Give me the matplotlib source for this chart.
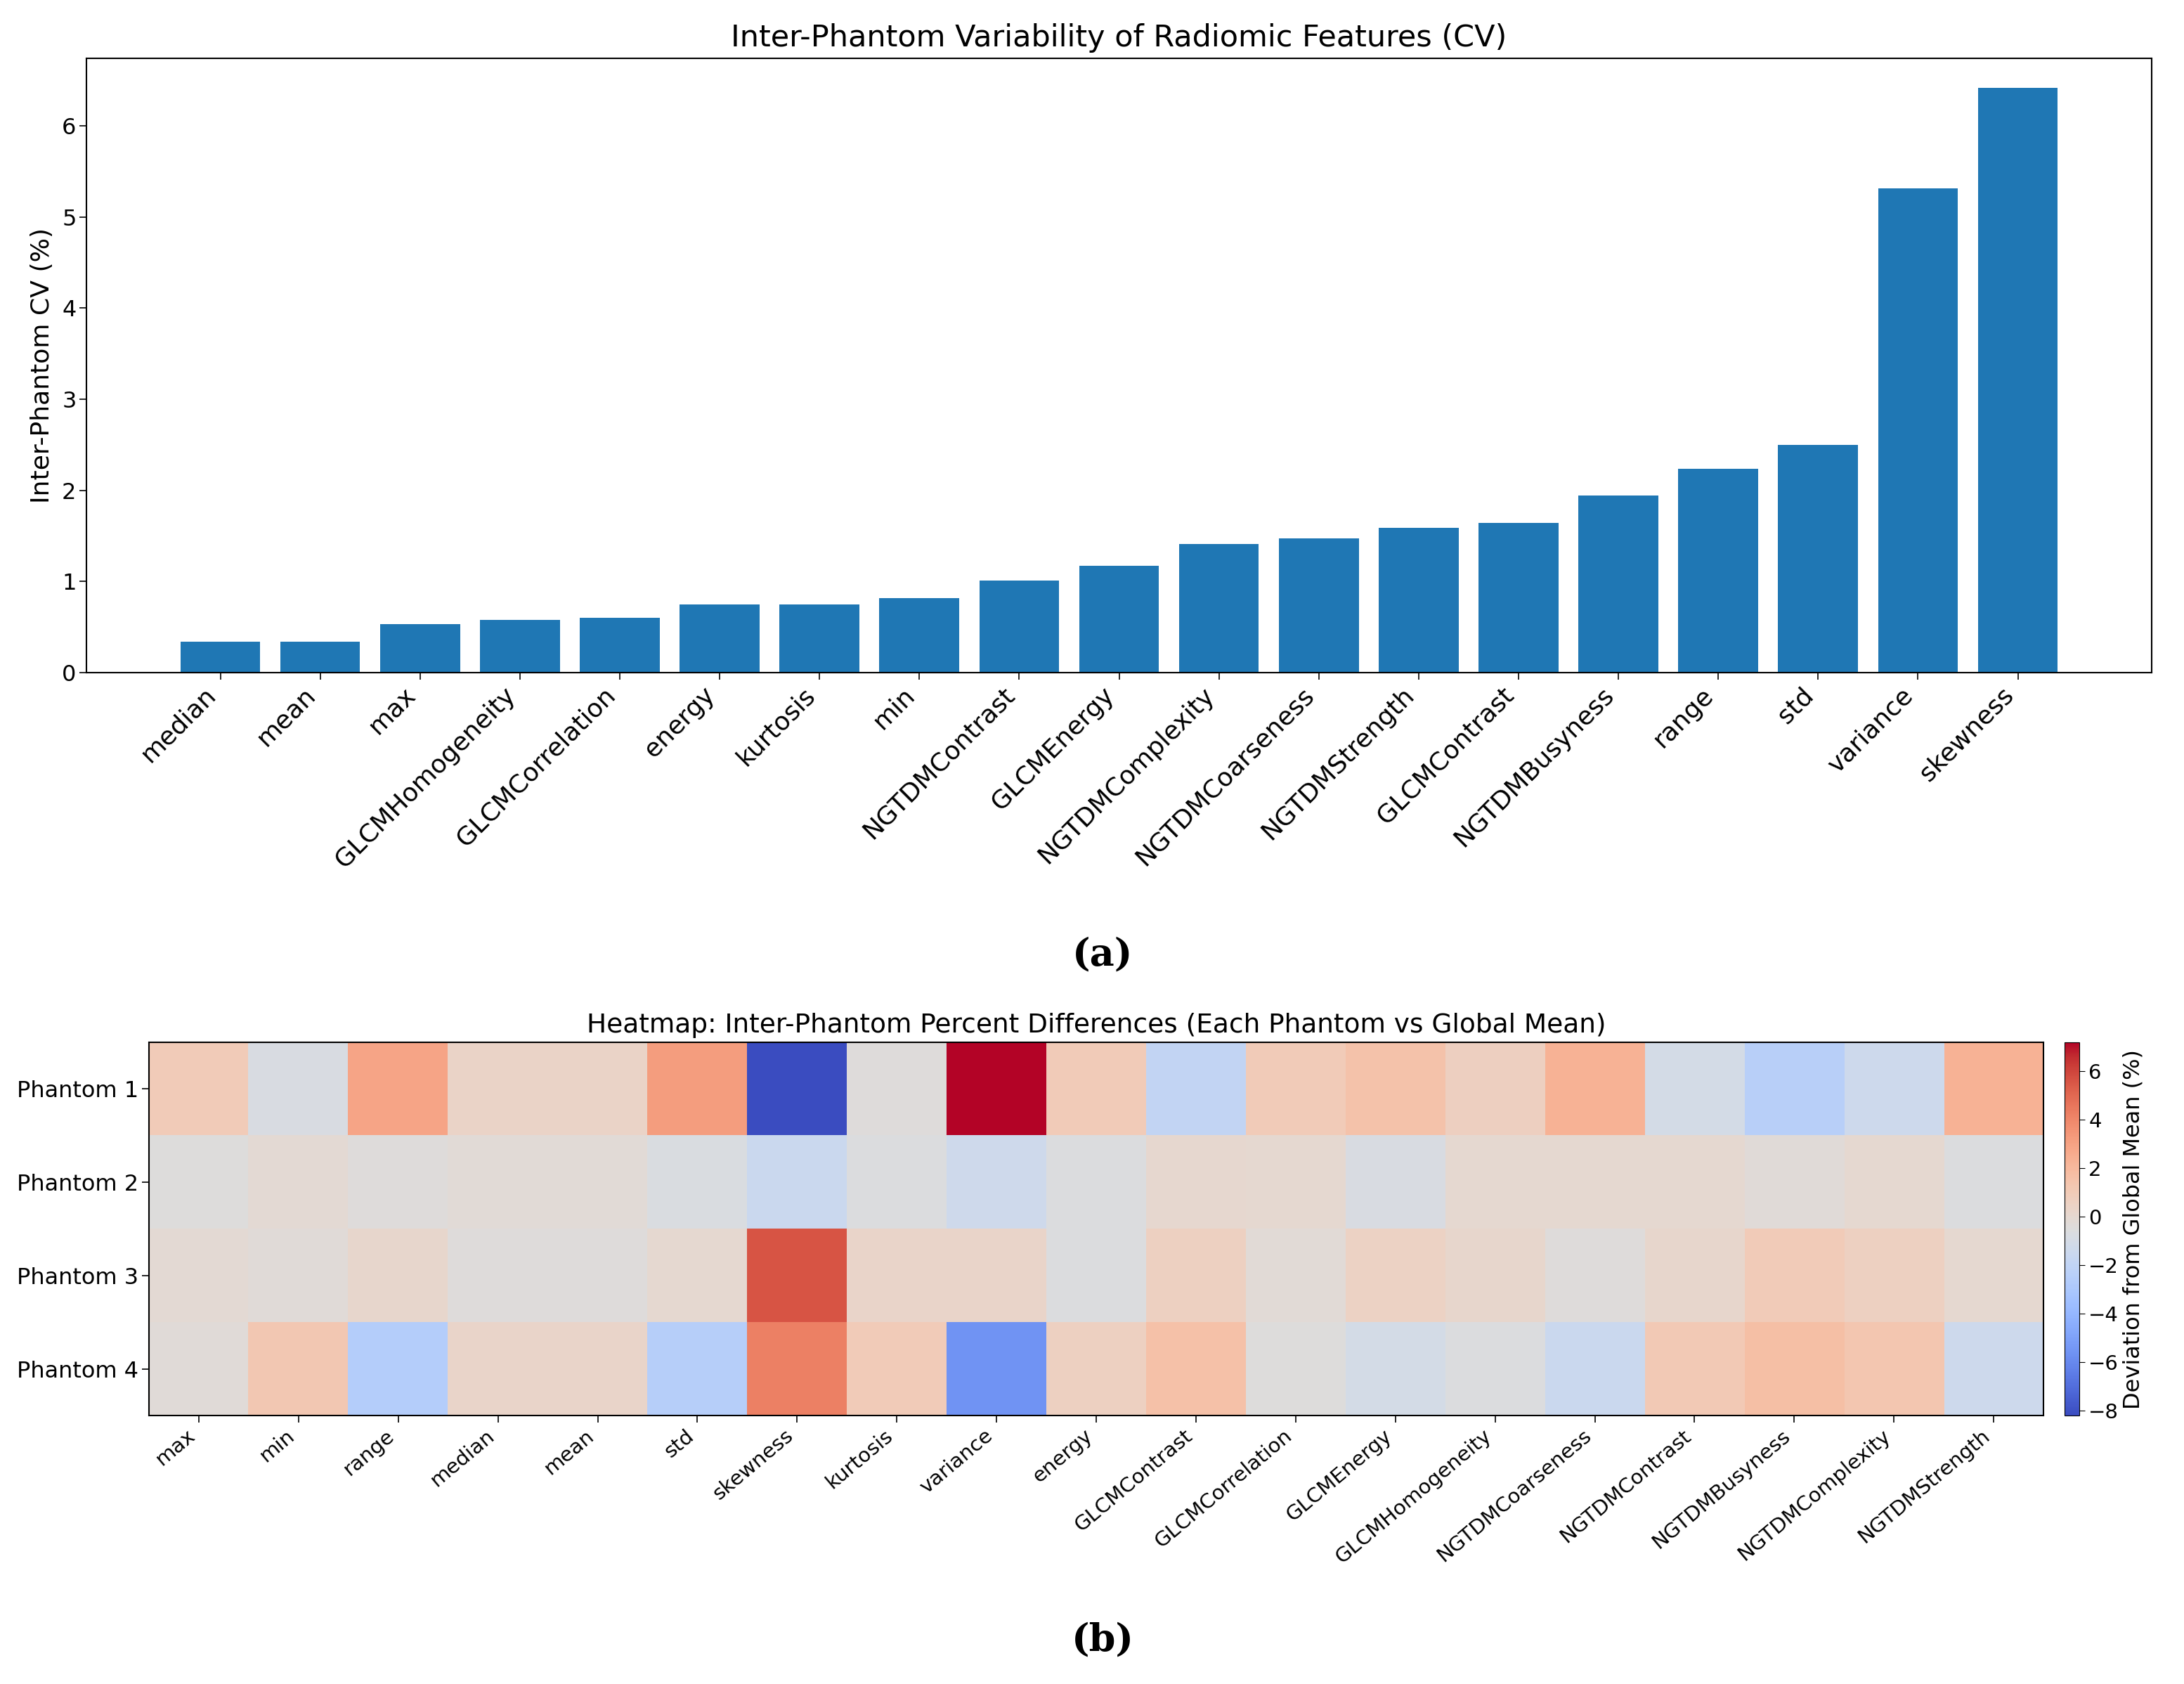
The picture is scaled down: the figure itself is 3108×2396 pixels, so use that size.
import matplotlib
matplotlib.use("Agg")
import matplotlib.pyplot as plt
import numpy as np

# (a) inter-phantom coefficient of variation, sorted ascending
cv_features = ['median', 'mean', 'max', 'GLCMHomogeneity', 'GLCMCorrelation', 'energy',
               'kurtosis', 'min', 'NGTDMContrast', 'GLCMEnergy', 'NGTDMComplexity',
               'NGTDMCoarseness', 'NGTDMStrength', 'GLCMContrast', 'NGTDMBusyness',
               'range', 'std', 'variance', 'skewness']
cv_values = [0.34, 0.34, 0.53, 0.58, 0.60, 0.75, 0.75, 0.82, 1.01, 1.17, 1.41,
             1.47, 1.59, 1.64, 1.94, 2.24, 2.50, 5.31, 6.42]

# (b) percent difference of each phantom vs global mean
hm_features = ['max', 'min', 'range', 'median', 'mean', 'std', 'skewness', 'kurtosis',
               'variance', 'energy', 'GLCMContrast', 'GLCMCorrelation', 'GLCMEnergy',
               'GLCMHomogeneity', 'NGTDMCoarseness', 'NGTDMContrast', 'NGTDMBusyness',
               'NGTDMComplexity', 'NGTDMStrength']
phantoms = ['Phantom 1', 'Phantom 2', 'Phantom 3', 'Phantom 4']
phantom1 = [1.0, -0.8, 2.9, 0.4, 0.4, 3.2, -8.2, -0.4, 7.2, 1.0, -1.9, 1.0, 1.5, 0.7, 2.3, -1.0, -2.4, -1.4, 2.3]
phantom2 = [-0.5, -0.1, -0.4, -0.2, -0.2, -0.7, -1.5, -0.6, -1.3, -0.6, 0.1, 0.0, -0.8, 0.0, 0.0, 0.0, -0.3, 0.0, -0.6]
phantom3 = [-0.1, -0.3, 0.2, -0.4, -0.4, 0.0, 5.6, 0.3, 0.3, -0.6, 0.6, -0.2, 0.5, 0.2, -0.4, 0.2, 1.0, 0.6, 0.0]
phantom4 = [-0.3, 1.2, -2.6, 0.3, 0.3, -2.5, 4.2, 1.0, -5.6, 0.6, 1.6, -0.5, -1.0, -0.6, -1.5, 1.1, 1.7, 1.3, -1.4]

fig = plt.figure(figsize=(31.08, 23.96), dpi=100)

# ---- (a) bar chart
ax1 = fig.add_axes([0.0396, 0.6006, 0.9456, 0.3648])
x = np.arange(len(cv_features))
ax1.bar(x, cv_values, width=0.8, color='#1f77b4')
ax1.set_xticks(x)
ax1.set_xticklabels(cv_features, rotation=45, ha='right', fontsize=26)
ax1.tick_params(axis='y', labelsize=23)
ax1.tick_params(length=7, width=1.2)
ax1.set_ylabel('Inter-Phantom CV (%)', fontsize=26, labelpad=8)
ax1.set_title('Inter-Phantom Variability of Radiomic Features (CV)', fontsize=31, pad=12)
for s in ax1.spines.values():
    s.set_linewidth(1.5)

fig.text(0.505, 0.433, '(a)', ha='center', va='center', fontsize=39,
         family='DejaVu Serif', weight='bold')

# ---- (b) heatmap
data = np.array([phantom1, phantom2, phantom3, phantom4])
ax2 = fig.add_axes([0.0682, 0.1594, 0.8675, 0.2216])
im = ax2.imshow(data, cmap='coolwarm', aspect='auto')
ax2.set_xticks(np.arange(len(hm_features)))
ax2.set_xticklabels(hm_features, rotation=40, ha='right', fontsize=21)
ax2.set_yticks(np.arange(len(phantoms)))
ax2.set_yticklabels(phantoms, fontsize=23)
ax2.tick_params(length=7, width=1.2)
ax2.set_title('Heatmap: Inter-Phantom Percent Differences (Each Phantom vs Global Mean)',
              fontsize=27, pad=10)
for s in ax2.spines.values():
    s.set_linewidth(1.5)

cax = fig.add_axes([0.9453, 0.1594, 0.0068, 0.2216])
cb = fig.colorbar(im, cax=cax)
cb.set_ticks([-8, -6, -4, -2, 0, 2, 4, 6])
cb.ax.tick_params(labelsize=21, length=6)
cb.set_label('Deviation from Global Mean (%)', fontsize=23)

fig.text(0.505, 0.026, '(b)', ha='center', va='center', fontsize=39,
         family='DejaVu Serif', weight='bold')

fig.savefig('out.png', dpi=100)
